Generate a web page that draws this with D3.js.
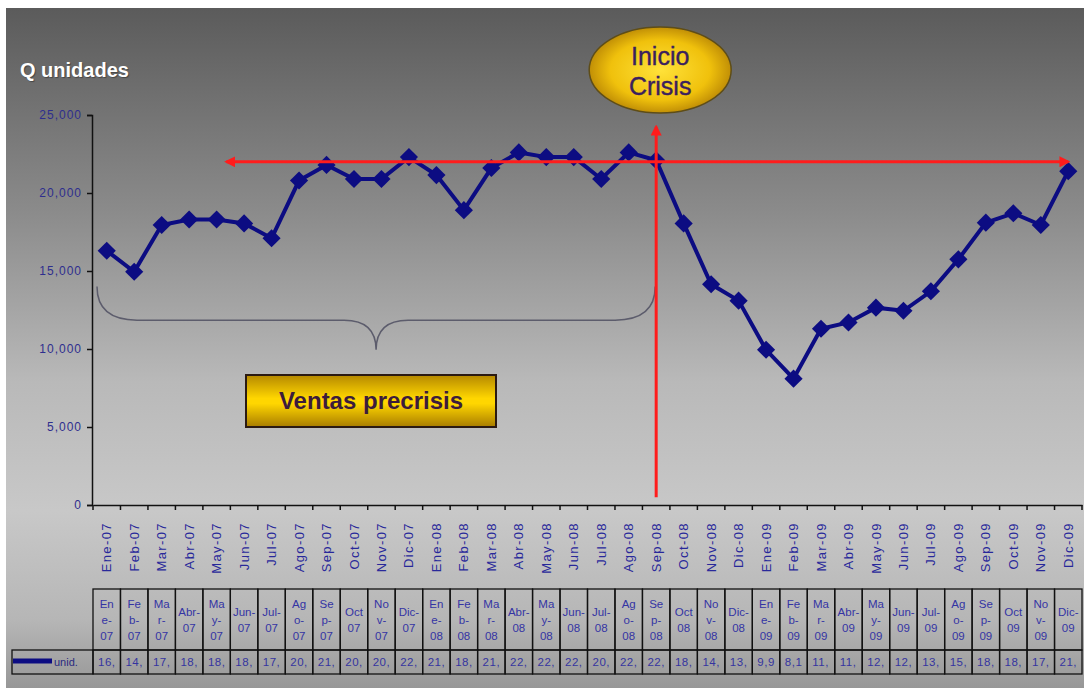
<!DOCTYPE html>
<html>
<head>
<meta charset="utf-8">
<script src="https://cdn.jsdelivr.net/npm/d3@7"></script>
<style>
  body { margin: 0; background: #fff; }
  svg { display: block; font-family: "Liberation Sans", Arial, sans-serif; }
</style>
</head>
<body>
<svg id="drawing_region"></svg>
<script>
// meses (eje x y tabla)
const categories = [
    "Ene-07","Feb-07","Mar-07","Abr-07","May-07","Jun-07","Jul-07","Ago-07","Sep-07","Oct-07","Nov-07","Dic-07",
    "Ene-08","Feb-08","Mar-08","Abr-08","May-08","Jun-08","Jul-08","Ago-08","Sep-08","Oct-08","Nov-08","Dic-08",
    "Ene-09","Feb-09","Mar-09","Abr-09","May-09","Jun-09","Jul-09","Ago-09","Sep-09","Oct-09","Nov-09","Dic-09"
];

// unidades vendidas por mes
const units = [
    16300, 14950, 17950, 18300, 18300, 18050, 17100, 20800, 21800, 20900, 20900, 22300,
    21150, 18900, 21600, 22600, 22300, 22300, 20900, 22600, 22100, 18050, 14150, 13100,
    9950, 8100, 11300, 11700, 12650, 12450, 13700, 15750, 18100, 18700, 17950, 21400
];

const yTicks = [0, 5000, 10000, 15000, 20000, 25000];

// meses que se parten en 3 renglones en la tabla
const threeLineMonths = ["Ene","Feb","Mar","May","Ago","Sep","Nov"];

const seriesName = "unid.";
const crisisMonth = "Sep-08";

var config = {
    parent: '#drawing_region',
    width: 1086,
    height: 688,
    plot: {left: 93, right: 1082, top: 115, bottom: 505}
};

class SalesChart {
    constructor( config ) {
        this.config = config;
        this.init();
    }

    init() {
        let self = this;
        const c = self.config;

        self.svg = d3.select( c.parent )
            .attr('width', c.width)
            .attr('height', c.height);

        const defs = self.svg.append('defs');

        // fondo gris degradado
        const bg = defs.append('linearGradient')
            .attr('id', 'bg').attr('x1', 0).attr('y1', 0).attr('x2', 0).attr('y2', 1);
        [[0, '#5b5b5b'], [0.3, '#8b8b8b'], [0.55, '#b9b9b9'], [0.74, '#c8c8c8'], [0.9, '#b6b6b6'], [1, '#979797']]
            .forEach( s => bg.append('stop').attr('offset', s[0]).attr('stop-color', s[1]) );

        const gold = defs.append('radialGradient').attr('id', 'goldOval');
        [[0, '#ffe23a'], [0.7, '#f0c10c'], [1, '#c18f06']]
            .forEach( s => gold.append('stop').attr('offset', s[0]).attr('stop-color', s[1]) );

        const goldBox = defs.append('linearGradient')
            .attr('id', 'goldBox').attr('x1', 0).attr('y1', 0).attr('x2', 0).attr('y2', 1);
        [[0, '#b58800'], [0.45, '#ffd600'], [0.55, '#ffd600'], [1, '#a87c00']]
            .forEach( s => goldBox.append('stop').attr('offset', s[0]).attr('stop-color', s[1]) );

        const arrow = defs.append('marker')
            .attr('id', 'arrow')
            .attr('viewBox', '0 0 10 10')
            .attr('refX', 8).attr('refY', 5)
            .attr('markerWidth', 11).attr('markerHeight', 11)
            .attr('markerUnits', 'userSpaceOnUse')
            .attr('orient', 'auto-start-reverse');
        arrow.append('path').attr('d', 'M0,0 L10,5 L0,10 Z').attr('fill', '#ff1c1c');

        self.svg.append('rect')
            .attr('x', 6).attr('y', 8)
            .attr('width', 1078).attr('height', c.height - 8)
            .attr('fill', 'url(#bg)');

        self.xscale = d3.scaleBand()
            .domain( categories )
            .range( [c.plot.left, c.plot.right] );

        self.yscale = d3.scaleLinear()
            .domain( [0, 25000] )
            .range( [c.plot.bottom, c.plot.top] );

        self.chart = self.svg.append('g');

        // titulo del eje y
        self.svg.append('text')
            .attr('x', 20).attr('y', 77)
            .attr('fill', '#fff')
            .style('font-size', '20px')
            .style('font-weight', 'bold')
            .style('text-shadow', '1px 1px 1px rgba(0,0,0,0.35)')
            .text('Q unidades');
    }

    render() {
        let self = this;
        const c = self.config;
        const x = self.xscale, y = self.yscale;
        const bw = x.bandwidth();
        const cx = d => x(d) + bw / 2;

        // eje y
        const yaxis = d3.axisLeft( y )
            .tickValues( yTicks )
            .tickSize(5)
            .tickPadding(5)
            .tickFormat( d3.format(',') );
        const yg = self.chart.append('g')
            .attr('transform', `translate(${c.plot.left - 1}, 0)`)
            .call( yaxis );
        yg.select('.domain').attr('stroke', '#111').attr('stroke-width', 1.5);
        yg.selectAll('.tick line').attr('stroke', '#111').attr('stroke-width', 1.5);
        yg.selectAll('.tick text')
            .attr('fill', '#2e2e8e')
            .style('font-size', '12px')
            .style('letter-spacing', '1px')
            .style('font-family', '"Liberation Sans", Arial, sans-serif');

        // eje x (etiquetas verticales)
        const xaxis = d3.axisBottom( x ).tickSize(0).tickSizeOuter(0);
        const xg = self.chart.append('g')
            .attr('transform', `translate(0, ${c.plot.bottom})`)
            .call( xaxis );
        xg.select('.domain').attr('stroke', '#111').attr('stroke-width', 1.5);
        xg.selectAll('.tick text')
            .attr('transform', 'rotate(-90)')
            .attr('x', -17).attr('y', 0).attr('dy', '0.35em')
            .attr('text-anchor', 'end')
            .attr('fill', '#28289a')
            .style('font-size', '13px')
            .style('letter-spacing', '1.4px')
            .style('font-family', '"Liberation Sans", Arial, sans-serif');
        // marcas entre meses
        xg.selectAll('line.sep')
            .data( categories.concat(['end']) )
            .enter().append('line')
            .attr('class', 'sep')
            .attr('x1', (d, i) => c.plot.left + i * bw)
            .attr('x2', (d, i) => c.plot.left + i * bw)
            .attr('y1', 0).attr('y2', 5)
            .attr('stroke', '#111').attr('stroke-width', 1.5);

        // llave "ventas precrisis"
        const bx0 = x(categories[0]) + 4, bx1 = cx(crisisMonth) - 1;
        const bmid = (bx0 + bx1) / 2;
        const yEnd = y(14000), yFlat = y(11850), yTip = y(9950);
        self.chart.append('path')
            .attr('d', `M${bx0},${yEnd} Q${bx0},${yFlat} ${bx0 + 40},${yFlat} L${bmid - 32},${yFlat}`
                + ` Q${bmid},${yFlat} ${bmid},${yTip} Q${bmid},${yFlat} ${bmid + 32},${yFlat}`
                + ` L${bx1 - 40},${yFlat} Q${bx1},${yFlat} ${bx1},${yEnd}`)
            .attr('fill', 'none')
            .attr('stroke', '#5c5c6c')
            .attr('stroke-width', 1.5);

        // serie
        const line = d3.line()
            .x( (d, i) => cx(categories[i]) )
            .y( d => y(d) );
        self.chart.append('path')
            .datum( units )
            .attr('d', line)
            .attr('fill', 'none')
            .attr('stroke', '#0c0c82')
            .attr('stroke-width', 4);

        self.chart.selectAll('path.pt')
            .data( units )
            .enter().append('path')
            .attr('class', 'pt')
            .attr('d', d3.symbol().type(d3.symbolSquare).size(165))
            .attr('transform', (d, i) => `translate(${cx(categories[i])}, ${y(d)}) rotate(45)`)
            .attr('fill', '#0c0c82');

        // flechas rojas
        self.chart.append('line')
            .attr('x1', x(categories[5]) - 4).attr('x2', cx(categories[35]))
            .attr('y1', y(22000)).attr('y2', y(22000))
            .attr('stroke', '#ff1c1c').attr('stroke-width', 3)
            .attr('marker-start', 'url(#arrow)')
            .attr('marker-end', 'url(#arrow)');
        self.chart.append('line')
            .attr('x1', cx(crisisMonth)).attr('x2', cx(crisisMonth))
            .attr('y1', y(500)).attr('y2', y(24250))
            .attr('stroke', '#ff1c1c').attr('stroke-width', 3)
            .attr('marker-end', 'url(#arrow)');

        // ovalo "Inicio Crisis"
        const ox = cx(crisisMonth) + 4, oy = 70;
        self.svg.append('ellipse')
            .attr('cx', ox).attr('cy', oy)
            .attr('rx', 71).attr('ry', 43)
            .attr('fill', 'url(#goldOval)')
            .attr('stroke', '#5e4d18').attr('stroke-width', 1.5);
        ['Inicio', 'Crisis'].forEach( (t, i) => {
            self.svg.append('text')
                .attr('x', ox).attr('y', oy - 14 + i * 30)
                .attr('dy', '0.35em')
                .attr('text-anchor', 'middle')
                .attr('fill', '#3b1f5e')
                .attr('stroke', '#3b1f5e')
                .attr('stroke-width', 0.4)
                .style('font-size', '25px')
                .text(t);
        });

        // caja "Ventas precrisis"
        self.svg.append('rect')
            .attr('x', 246).attr('y', 375)
            .attr('width', 250).attr('height', 52)
            .attr('fill', 'url(#goldBox)')
            .attr('stroke', '#2b1a12').attr('stroke-width', 2);
        self.svg.append('text')
            .attr('x', 371).attr('y', 401).attr('dy', '0.35em')
            .attr('text-anchor', 'middle')
            .attr('fill', '#3c1c3c')
            .style('font-size', '24px')
            .style('font-weight', 'bold')
            .text('Ventas precrisis');

        self.renderTable();
    }

    renderTable() {
        let self = this;
        const c = self.config;
        const x = self.xscale;
        const bw = x.bandwidth();
        const top = 589, mid = 650, bottom = 674, legendLeft = 12;
        const table = self.svg.append('g');
        const stroke = '#111';

        const split = d => {
            const m = d.slice(0, 3), yy = d.slice(4);
            if ( threeLineMonths.includes(m) ) return [m.slice(0, 2), m[2] + '-', yy];
            if ( m === 'Oct' ) return [m, yy];
            return [m + '-', yy];
        };
        const shortValue = v => v >= 10000
            ? Math.floor(v / 1000) + ','
            : Math.floor(v / 1000) + ',' + Math.floor((v % 1000) / 100);

        // celdas de encabezado
        const head = table.selectAll('g.head')
            .data( categories )
            .enter().append('g')
            .attr('class', 'head');
        head.append('rect')
            .attr('x', d => x(d)).attr('y', top)
            .attr('width', bw).attr('height', mid - top)
            .attr('fill', 'none').attr('stroke', stroke).attr('stroke-width', 1.3);
        head.each( function(d) {
            const lines = split(d);
            const g = d3.select(this);
            lines.forEach( (t, i) => {
                g.append('text')
                    .attr('x', x(d) + bw / 2)
                    .attr('y', (top + mid) / 2 + (i - (lines.length - 1) / 2) * 16)
                    .attr('dy', '0.35em')
                    .attr('text-anchor', 'middle')
                    .attr('fill', '#3434a4')
                    .style('font-size', '11.5px')
                    .text(t);
            });
        });

        // fila de valores
        table.selectAll('rect.val')
            .data( units )
            .enter().append('rect')
            .attr('class', 'val')
            .attr('x', (d, i) => x(categories[i])).attr('y', mid)
            .attr('width', bw).attr('height', bottom - mid)
            .attr('fill', 'none').attr('stroke', stroke).attr('stroke-width', 1.3);
        table.selectAll('text.val')
            .data( units )
            .enter().append('text')
            .attr('class', 'val')
            .attr('x', (d, i) => x(categories[i]) + 5)
            .attr('y', (mid + bottom) / 2).attr('dy', '0.35em')
            .attr('fill', '#3434a0')
            .style('font-size', '11.5px')
            .style('letter-spacing', '0.5px')
            .text( d => shortValue(d) );

        // leyenda
        table.append('rect')
            .attr('x', legendLeft).attr('y', mid)
            .attr('width', c.plot.left - legendLeft).attr('height', bottom - mid)
            .attr('fill', 'none').attr('stroke', stroke).attr('stroke-width', 1.3);
        table.append('line')
            .attr('x1', legendLeft + 1).attr('x2', 52)
            .attr('y1', 661).attr('y2', 661)
            .attr('stroke', '#0c0c82').attr('stroke-width', 5);
        table.append('text')
            .attr('x', 54).attr('y', (mid + bottom) / 2).attr('dy', '0.35em')
            .attr('fill', '#2a2a80')
            .style('font-size', '11px')
            .text(seriesName);
    }
}

const chart = new SalesChart( config );
chart.render();
</script>
</body>
</html>
